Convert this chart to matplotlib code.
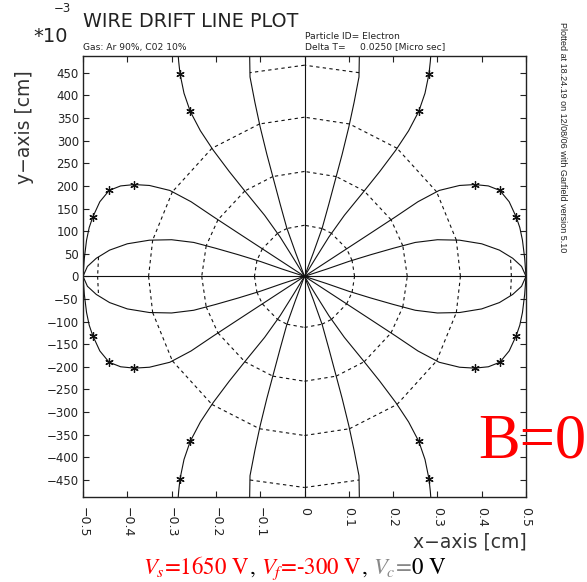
import numpy as np
import matplotlib
matplotlib.use("Agg")
import matplotlib.pyplot as plt

# ---------------- data (cm), upper-left quadrant, cell edge -> wire ----------------
petal_x = [-0.500, -0.490, -0.470, -0.440, -0.400, -0.350, -0.300, -0.250, -0.200, -0.150, -0.100, -0.050, 0.0]
petal_y = [0.000, 0.022, 0.040, 0.058, 0.072, 0.080, 0.081, 0.075, 0.062, 0.048, 0.033, 0.016, 0.0]

loop_x = [-0.500, -0.497, -0.492, -0.486, -0.478, -0.462, -0.441, -0.415, -0.384, -0.350, -0.304,
          -0.256, -0.206, -0.150, -0.100, -0.050, 0.0]
loop_y = [0.000, 0.040, 0.080, 0.108, 0.131, 0.165, 0.190, 0.200, 0.203, 0.201, 0.190,
          0.165, 0.132, 0.096, 0.064, 0.032, 0.0]

steep_x = [-0.286, -0.284, -0.281, -0.272, -0.258, -0.235, -0.206, -0.170, -0.130, -0.090, -0.055, -0.025, 0.0]
steep_y = [0.500, 0.475, 0.448, 0.405, 0.365, 0.322, 0.279, 0.232, 0.183, 0.135, 0.087, 0.040, 0.0]

vert_x = [-0.124, -0.123, -0.112, -0.100, -0.085, -0.070, -0.055, -0.040, -0.020, 0.0]
vert_y = [0.500, 0.441, 0.385, 0.330, 0.270, 0.215, 0.160, 0.107, 0.052, 0.0]

star_x = [-0.478, -0.441, -0.384, -0.281, -0.258]
star_y = [0.131, 0.190, 0.203, 0.448, 0.365]

iso_radii = [0.113, 0.232, 0.352, 0.467]
iso_partial = [False, False, False, True]

xtick_vals = [-0.5, -0.4, -0.3, -0.2, -0.1, 0.0, 0.1, 0.2, 0.3, 0.4, 0.5]
xtick_labels = ["\u22120.5", "\u22120.4", "\u22120.3", "\u22120.2", "\u22120.1", "0",
                "0.1", "0.2", "0.3", "0.4", "0.5"]
ytick_vals = [-450, -400, -350, -300, -250, -200, -150, -100, -50, 0, 50, 100, 150, 200, 250, 300, 350, 400, 450]

# ---------------- figure ----------------
W, H = 587, 582
plt.rcParams["mathtext.fontset"] = "stix"
fig = plt.figure(figsize=(W / 100, H / 100), dpi=100)
L, R, T, B = 83, 526, 55.7, 497
ax = fig.add_axes([L / W, 1 - B / H, (R - L) / W, (B - T) / H])
ax.set_xlim(-0.5, 0.5)
ax.set_ylim(-0.488, 0.488)

ink = "#111111"
curves = [(petal_x, petal_y), (loop_x, loop_y), (steep_x, steep_y), (vert_x, vert_y)]
lines_out = []  # origin -> outward, with axis flag
for sx in (1, -1):
    for sy in (1, -1):
        for cx, cy in curves:
            xs = sx * np.asarray(cx)
            ys = sy * np.asarray(cy)
            ax.plot(xs, ys, color=ink, lw=0.8, solid_joinstyle="round")
            lines_out.append((xs[::-1], ys[::-1], False))
        ax.plot(sx * np.asarray(star_x), sy * np.asarray(star_y), ls="none",
                marker=(6, 2, 0), ms=6, mew=0.9, color=ink)

# drift lines along the axes
axis_len = 0.5
ax.plot([-axis_len, axis_len], [0, 0], color=ink, lw=0.8)
ax.plot([0, 0], [-axis_len, axis_len], color=ink, lw=0.8)
for dx, dy in ((1, 0), (-1, 0), (0, 1), (0, -1)):
    lines_out.append((np.array([0, dx * axis_len]), np.array([0, dy * axis_len]), True))


def crossing(xs, ys, r):
    d = np.hypot(xs, ys)
    for i in range(len(d) - 1):
        if d[i] < r <= d[i + 1]:
            t = (r - d[i]) / (d[i + 1] - d[i])
            return xs[i] + t * (xs[i + 1] - xs[i]), ys[i] + t * (ys[i + 1] - ys[i])
    return None


# isochrones: dashed polylines joining equal-time points on neighbouring drift lines
for r, partial in zip(iso_radii, iso_partial):
    pts = []
    for xs, ys, is_axis in lines_out:
        p = crossing(xs, ys, r)
        if p is not None:
            pts.append((np.arctan2(p[1], p[0]), p[0], p[1], is_axis))
    pts.sort()
    n = len(pts)
    for k in range(n):
        a, b = pts[k], pts[(k + 1) % n]
        if partial and not (a[3] or b[3]):
            continue
        ax.plot([a[1], b[1]], [a[2], b[2]], color=ink, lw=0.8, ls=(0, (3, 3)))

# ---------------- axes styling ----------------
for s in ax.spines.values():
    s.set_linewidth(1.0)
    s.set_color("#222222")
ax.set_xticks(xtick_vals)
ax.set_xticklabels(xtick_labels, rotation=-90, va="top", ha="center")
ax.set_yticks(np.asarray(ytick_vals) / 1000.0)
ax.set_yticklabels([str(v).replace("-", "\u2212") for v in ytick_vals])
ax.tick_params(direction="in", length=4, width=0.8, top=True, right=True,
               labelsize=8.5, colors="#222222")
ax.tick_params(axis="x", pad=7, labelsize=9)
ax.tick_params(axis="y", pad=3)

txtc = "#222222"
fig.text(83 / W, 1 - 27 / H, "WIRE DRIFT LINE PLOT", fontsize=13.8, color=txtc,
         ha="left", va="baseline")
fig.text(33 / W, 1 - 42 / H, "*10", fontsize=14, color=txtc, ha="left", va="baseline")
fig.text(54 / W, 1 - 12 / H, "\u22123", fontsize=8.5, color=txtc, ha="left", va="baseline")
fig.text(83 / W, 1 - 50 / H, "Gas: Ar 90%, C02 10%", fontsize=6.6, color=txtc,
         ha="left", va="baseline")
fig.text(305 / W, 1 - 39 / H, "Particle ID= Electron", fontsize=6.6, color=txtc,
         ha="left", va="baseline")
fig.text(305 / W, 1 - 49 / H, "Delta T=     0.0250 [Micro sec]", fontsize=6.6, color=txtc,
         ha="left", va="baseline")
fig.text(562 / W, 1 - 22 / H, "Plotted at 18.24.19 on 12/08/06 with Garfield version 5.10",
         fontsize=6.5, family="Liberation Sans", rotation=-90, color=txtc,
         ha="center", va="top")
fig.text(24 / W, 1 - 127 / H, "y\u2212axis [cm]", fontsize=13.5, color="#333333", rotation=90,
         ha="center", va="center")
fig.text(527 / W, 1 - 548 / H, "x\u2212axis [cm]", fontsize=13.5, color="#333333",
         ha="right", va="baseline")
fig.text(478 / W, 1 - 458 / H, "B=0", fontsize=45, family="Liberation Serif", color="red",
         ha="left", va="baseline")

# caption with coloured pieces
fig.canvas.draw()
rend = fig.canvas.get_renderer()
pieces = [("$V_s$=1650 V", "red", 0), (",", "black", 0), ("$V_f$=-300 V", "red", 6),
          (",", "black", 0), ("$V_c$=", "#888888", 6), ("0 V", "black", 0)]
xpix = 143
for s, col, gap in pieces:
    xpix += gap
    t = fig.text(xpix / W, 1 - 574 / H, s, fontsize=16.5, family="STIXGeneral", color=col,
                 ha="left", va="baseline")
    xpix = t.get_window_extent(renderer=rend).x1

fig.savefig("out.png", dpi=100)
